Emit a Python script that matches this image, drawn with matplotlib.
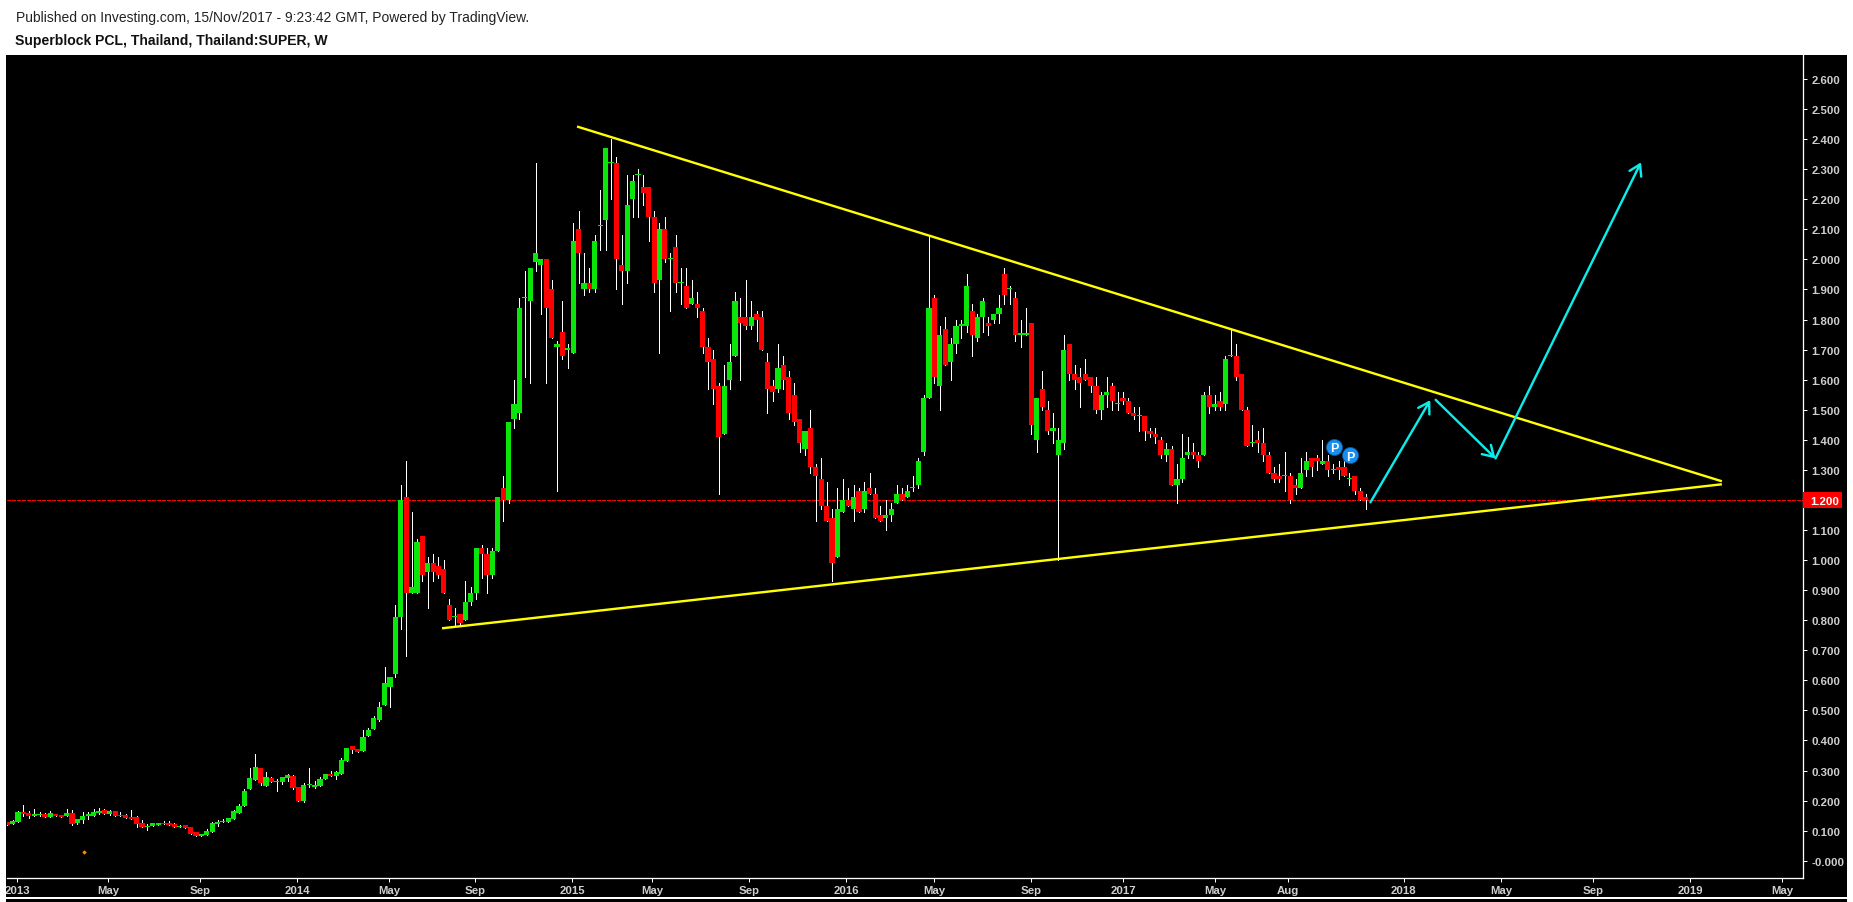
import matplotlib
matplotlib.use("Agg")
import matplotlib.pyplot as plt
from matplotlib.patches import Rectangle

# ---- weekly candles of Thailand:SUPER ----
open_ = [
 .130,.122,.130,.162,.159,.149,.152,.155,.145,.155,
 .152,.149,.159,.125,.135,.149,.149,.159,.169,.155,
 .165,.152,.152,.145,.145,.125,.113,.115,.119,.125,
 .125,.122,.112,.119,.112,.095,.082,.085,.095,.122,
 .129,.129,.139,.159,.182,.238,.268,.308,.248,.275,
 .263,.262,.275,.282,.245,.199,.253,.245,.248,.272,
 .288,.282,.288,.332,.381,.372,.365,.415,.438,.468,
 .518,.578,.62,.81,1.21,.89,.89,1.08,.96,.99,
 .98,.97,.85,.81,.82,.80,.86,.89,1.04,1.02,
 .95,1.03,1.24,1.20,1.47,1.49,1.87,1.86,1.99,1.98,
 2.00,1.90,1.71,1.76,1.70,1.69,2.10,1.90,1.92,1.90,
 2.11,2.13,2.32,2.32,1.98,1.96,2.20,2.28,2.24,2.24,
 2.14,1.93,2.10,2.00,2.04,1.92,1.91,1.85,1.85,1.83,
 1.71,1.67,1.58,1.42,1.60,1.68,1.81,1.81,1.78,1.82,
 1.81,1.66,1.58,1.57,1.65,1.61,1.55,1.47,1.37,1.44,
 1.31,1.27,1.18,1.14,1.01,1.16,1.20,1.17,1.23,1.17,
 1.24,1.22,1.15,1.14,1.15,1.19,1.22,1.21,1.24,1.25,
 1.36,1.54,1.87,1.58,1.77,1.66,1.72,1.78,1.78,1.83,
 1.74,1.81,1.79,1.80,1.82,1.95,1.90,1.87,1.75,1.75,
 1.79,1.40,1.57,1.50,1.43,1.35,1.39,1.72,1.62,1.61,
 1.62,1.61,1.58,1.50,1.55,1.58,1.52,1.54,1.53,1.49,
 1.48,1.48,1.43,1.42,1.40,1.35,1.37,1.25,1.27,1.35,
 1.36,1.35,1.35,1.55,1.51,1.53,1.52,1.68,1.68,1.62,
 1.50,1.39,1.40,1.39,1.35,1.29,1.28,1.28,1.28,1.25,
 1.24,1.30,1.34,1.34,1.32,1.33,1.30,1.31,1.31,1.27,
 1.28,1.23,1.21]
high = [
 .130,.135,.165,.185,.165,.172,.162,.159,.165,.155,
 .152,.172,.169,.140,.162,.162,.172,.175,.173,.170,
 .165,.162,.155,.169,.149,.135,.122,.125,.125,.132,
 .132,.125,.119,.119,.112,.095,.089,.105,.129,.135,
 .139,.142,.170,.189,.238,.308,.355,.308,.295,.278,
 .272,.278,.288,.285,.245,.258,.308,.265,.278,.288,
 .298,.298,.342,.375,.381,.372,.435,.441,.481,.528,
 .644,.611,.85,1.25,1.33,1.16,1.07,1.08,1.01,1.02,
 1.01,1.00,.87,.84,.82,.93,.91,1.04,1.05,1.04,
 1.04,1.21,1.28,1.46,1.60,1.87,1.96,1.97,2.32,2.00,
 2.00,1.93,1.73,1.86,1.72,2.12,2.16,2.02,1.97,2.08,
 2.23,2.37,2.40,2.34,2.08,2.28,2.28,2.30,2.28,2.24,
 2.16,2.12,2.14,2.02,2.08,1.97,1.97,1.93,1.89,1.84,
 1.74,1.70,1.59,1.65,1.72,1.89,1.87,1.93,1.86,1.83,
 1.83,1.69,1.60,1.72,1.68,1.63,1.59,1.47,1.43,1.50,
 1.32,1.34,1.26,1.17,1.24,1.27,1.24,1.25,1.24,1.26,
 1.29,1.24,1.18,1.20,1.19,1.25,1.24,1.25,1.28,1.34,
 1.55,2.08,1.88,1.78,1.81,1.74,1.80,1.80,1.95,1.85,
 1.82,1.87,1.81,1.82,1.88,1.97,1.91,1.89,1.80,1.84,
 1.79,1.54,1.63,1.53,1.49,1.44,1.75,1.72,1.65,1.64,
 1.67,1.61,1.61,1.56,1.61,1.59,1.56,1.56,1.54,1.51,
 1.51,1.48,1.44,1.44,1.41,1.39,1.38,1.32,1.42,1.41,
 1.39,1.36,1.56,1.58,1.55,1.56,1.68,1.77,1.72,1.62,
 1.51,1.45,1.43,1.44,1.36,1.31,1.32,1.36,1.29,1.27,
 1.34,1.36,1.34,1.35,1.40,1.35,1.32,1.33,1.33,1.29,
 1.28,1.24,1.22]
low = [
 .119,.122,.130,.148,.142,.149,.150,.146,.145,.150,
 .146,.149,.119,.122,.125,.139,.149,.155,.155,.152,
 .149,.149,.142,.139,.112,.112,.103,.115,.119,.122,
 .119,.112,.112,.109,.089,.082,.082,.085,.095,.115,
 .129,.129,.139,.159,.182,.238,.268,.252,.248,.262,
 .232,.255,.265,.238,.199,.195,.246,.242,.248,.272,
 .282,.272,.288,.332,.358,.362,.365,.415,.438,.465,
 .518,.511,.61,.77,.68,.89,.89,.93,.84,.93,
 .94,.89,.80,.78,.78,.80,.85,.87,.94,.89,
 .94,1.03,1.13,1.19,1.44,1.47,1.61,1.59,1.96,1.82,
 1.59,1.74,1.23,1.67,1.64,1.69,1.92,1.88,1.89,1.89,
 2.03,2.03,2.20,1.90,1.85,1.92,2.14,2.14,2.18,2.06,
 1.89,1.69,1.99,1.83,1.89,1.85,1.84,1.85,1.81,1.69,
 1.57,1.52,1.22,1.42,1.57,1.68,1.60,1.77,1.77,1.73,
 1.70,1.49,1.53,1.56,1.57,1.47,1.45,1.36,1.35,1.29,
 1.13,1.17,1.13,.93,1.01,1.16,1.18,1.13,1.16,1.16,
 1.22,1.14,1.13,1.10,1.13,1.19,1.20,1.21,1.23,1.24,
 1.35,1.54,1.59,1.50,1.65,1.60,1.69,1.74,1.76,1.68,
 1.73,1.76,1.75,1.79,1.79,1.85,1.85,1.73,1.71,1.75,
 1.42,1.36,1.50,1.42,1.39,1.00,1.37,1.60,1.57,1.51,
 1.60,1.56,1.49,1.47,1.51,1.50,1.50,1.52,1.49,1.47,
 1.43,1.40,1.41,1.39,1.34,1.33,1.25,1.19,1.26,1.34,
 1.34,1.31,1.35,1.49,1.50,1.50,1.50,1.68,1.60,1.50,
 1.38,1.38,1.36,1.33,1.29,1.26,1.26,1.23,1.19,1.22,
 1.24,1.28,1.28,1.30,1.32,1.28,1.29,1.27,1.28,1.25,
 1.22,1.20,1.17]
close = [
 .119,.133,.162,.155,.150,.155,.154,.146,.159,.150,
 .146,.159,.122,.139,.149,.155,.162,.165,.155,.165,
 .149,.149,.142,.139,.122,.112,.115,.125,.125,.122,
 .119,.112,.115,.109,.089,.082,.089,.099,.125,.129,
 .133,.142,.165,.182,.232,.275,.312,.258,.278,.262,
 .266,.278,.285,.242,.199,.252,.255,.252,.272,.288,
 .282,.295,.335,.375,.368,.362,.411,.435,.475,.511,
 .591,.611,.81,1.20,.89,.91,1.06,.95,.99,.96,
 .95,.89,.80,.81,.79,.86,.89,1.04,1.02,.95,
 1.03,1.21,1.20,1.46,1.52,1.84,1.87,1.97,2.02,2.00,
 1.84,1.74,1.72,1.68,1.70,2.06,2.02,1.92,1.90,2.06,
 2.11,2.37,2.32,2.00,1.96,2.18,2.26,2.28,2.22,2.14,
 1.92,2.10,2.00,2.00,1.92,1.92,1.84,1.87,1.84,1.71,
 1.66,1.57,1.41,1.58,1.66,1.86,1.79,1.78,1.81,1.80,
 1.70,1.57,1.56,1.64,1.60,1.49,1.46,1.39,1.43,1.31,
 1.28,1.18,1.13,.99,1.17,1.20,1.18,1.21,1.16,1.23,
 1.22,1.14,1.13,1.15,1.17,1.22,1.20,1.23,1.24,1.33,
 1.54,1.84,1.61,1.75,1.65,1.72,1.78,1.78,1.91,1.75,
 1.81,1.86,1.78,1.82,1.84,1.88,1.90,1.75,1.75,1.75,
 1.45,1.54,1.51,1.43,1.44,1.40,1.70,1.62,1.60,1.59,
 1.60,1.58,1.50,1.55,1.56,1.53,1.52,1.53,1.49,1.48,
 1.48,1.43,1.42,1.41,1.35,1.37,1.25,1.27,1.34,1.36,
 1.35,1.33,1.55,1.51,1.52,1.51,1.67,1.68,1.61,1.50,
 1.38,1.39,1.39,1.35,1.29,1.27,1.27,1.28,1.20,1.24,
 1.29,1.33,1.31,1.33,1.33,1.30,1.30,1.30,1.28,1.27,
 1.23,1.20,1.20]

# axis labelling (x positions are bar numbers)
x_tick_bars = [1.8,18.7,35.8,53.8,70.8,86.8,104.8,119.7,137.6,155.6,171.9,190.0,
               207.0,224.1,237.6,259.1,277.1,294.2,312.2,329.3]
x_tick_labels = ["2013","May","Sep","2014","May","Sep","2015","May","Sep","2016","May","Sep",
                 "2017","May","Aug","2018","May","Sep","2019","May"]
y_ticks = [0.1*k for k in range(0, 27)]
last_price = 1.20

# drawings: (bar, price) pairs
upper_trend = [(105.7, 2.442), (318.1, 1.262)]
lower_trend = [(80.65, 0.773), (318.1, 1.252)]
arrows = [((252.9, 1.192), (264.0, 1.532)),
          ((265.0, 1.533), (276.1, 1.338)),
          ((276.1, 1.338), (303.1, 2.323))]
p_markers = [(246.2, 1.377), (249.2, 1.348)]
orange_mark = (14.3, 0.028)

title_1 = "Published on Investing.com, 15/Nov/2017 - 9:23:42 GMT, Powered by TradingView."
title_2 = "Superblock PCL, Thailand, Thailand:SUPER, W"

W, H = 1853, 903
GREEN, RED, YELLOW, CYAN, GREY = "#0AE60A", "#FF0000", "#FFFF00", "#0CECEC", "#CFCFCF"
FONT = "Liberation Sans"
px = 0.72  # points per pixel at dpi 100

fig = plt.figure(figsize=(W/100, H/100), dpi=100, facecolor="white")
panel = Rectangle((6/W, 0), (1847-6)/W, (903-56)/H, transform=fig.transFigure,
                  facecolor="black", edgecolor="none", zorder=-5)
fig.patches.append(panel)
fig.patches.append(Rectangle((6/W, 1-900.3/H), (1847-6)/W, 2.2/H, transform=fig.transFigure,
                             facecolor="white", edgecolor="none", zorder=-4))

L, R, T, B = 7.0, 1803.3, 56.0, 879.3
ax = fig.add_axes([L/W, 1-B/H, (R-L)/W, (B-T)/H], facecolor="black")
STEP, X0 = 5.39, 7.3
ax.set_xlim((L-X0)/STEP, (R-X0)/STEP)
YZ, YS = 861.7, 300.65
ax.set_ylim((YZ-B)/YS, (YZ-T)/YS)

for s in ("top", "left"):
    ax.spines[s].set_visible(False)
for s in ("right", "bottom"):
    ax.spines[s].set_color("white")
    ax.spines[s].set_linewidth(1.3*px)

ax.yaxis.tick_right()
ax.set_yticks(y_ticks)
ax.set_yticklabels([("-0.000" if k == 0 else f"{v:.3f}") for k, v in enumerate(y_ticks)],
                   fontfamily=FONT, fontweight="bold", fontsize=8.2, color=GREY)
ax.set_xticks(x_tick_bars)
ax.set_xticklabels(x_tick_labels, fontfamily=FONT, fontweight="bold", fontsize=8.2, color=GREY)
ax.tick_params(axis="y", length=3, width=px, color="white", pad=3)
ax.tick_params(axis="x", length=3, width=px, color="white", pad=1.5)
for lbl in ax.get_xticklabels():
    lbl.set_clip_path(panel)

# last price line and tag
ax.axhline(last_price, color=RED, lw=px, ls=(0, (3, 1.2)), zorder=1, antialiased=False)

bars = list(range(len(close)))
ax.vlines(bars, low, high, color="white", lw=px, zorder=2, antialiased=False)
MIN_BODY = 1.1/YS
for i, o, c in zip(bars, open_, close):
    col = GREEN if c >= o else RED
    lo, hi = min(o, c), max(o, c)
    ax.bar(i, max(hi-lo, MIN_BODY), bottom=lo, width=0.96, color=col, linewidth=0,
           zorder=3, antialiased=False)

for seg in (upper_trend, lower_trend):
    ax.plot([seg[0][0], seg[1][0]], [seg[0][1], seg[1][1]], color=YELLOW, lw=2.4*px,
            zorder=5, solid_capstyle="butt")

for a, b in arrows:
    ax.annotate("", xy=b, xytext=a, zorder=6,
                arrowprops=dict(arrowstyle="->,head_length=0.42,head_width=0.26", color=CYAN,
                                lw=2.4*px, shrinkA=0, shrinkB=0, mutation_scale=18))

ax.scatter([p[0] for p in p_markers], [p[1] for p in p_markers], s=135, color="#1590F0",
           edgecolor="#0B4F90", linewidth=0.6, zorder=7)
for p in p_markers:
    ax.text(p[0], p[1], "P", color="white", fontfamily=FONT, fontweight="bold", fontsize=9,
            ha="center", va="center_baseline", zorder=8)
ax.scatter([orange_mark[0]], [orange_mark[1]], s=5, marker="D", color="#FF9000", linewidth=0, zorder=4)

ax.add_patch(Rectangle((1.0, last_price-8/YS), 39/(R-L), 16/YS, transform=ax.get_yaxis_transform(),
                       facecolor=RED, edgecolor="none", clip_on=False, zorder=9))
ax.annotate(f"{last_price:.3f}", xy=(1.0, last_price), xycoords=ax.get_yaxis_transform(),
            xytext=(6.8*px, 0), textcoords="offset points", color="white", fontfamily=FONT,
            fontweight="bold", fontsize=8.2, ha="left", va="center_baseline", zorder=10,
            annotation_clip=False)

fig.text(16/W, 1-18/H, title_1, fontfamily=FONT, fontsize=10.0, color="#222222", va="center", ha="left")
fig.text(15/W, 1-41/H, title_2, fontfamily=FONT, fontsize=10.05, fontweight="bold", color="#111111",
         va="center", ha="left")

fig.savefig("out.png", dpi=100, facecolor="white")
